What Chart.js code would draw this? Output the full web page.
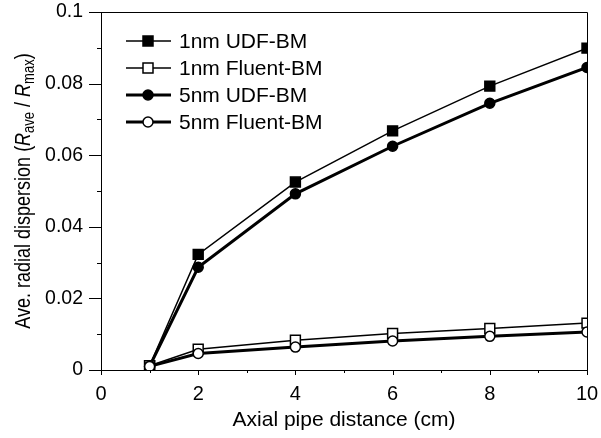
<!DOCTYPE html>
<html lang="en">
<head>
<meta charset="UTF-8">
<title>Ave. radial dispersion vs axial pipe distance</title>
<style>
  html, body { margin: 0; padding: 0; background: #fff; }
  canvas { display: block; }
</style>
</head>
<body>
<canvas id="dispChart" width="601" height="438"></canvas>
<script src="https://cdn.jsdelivr.net/npm/chart.js"></script>
<script>
// values
const distances = [1, 2, 4, 6, 8, 10];
const udf1nm    = [0.0012, 0.0323, 0.0525, 0.0668, 0.0793, 0.0899];
const fluent1nm = [0.0012, 0.0058, 0.0083, 0.0102, 0.0116, 0.0131];
const udf5nm    = [0.0010, 0.0287, 0.0492, 0.0625, 0.0745, 0.0845];
const fluent5nm = [0.0010, 0.0046, 0.0064, 0.0081, 0.0094, 0.0106];
const seriesNames = ['1nm UDF-BM', '1nm Fluent-BM', '5nm UDF-BM', '5nm Fluent-BM'];
const xTitle = 'Axial pipe distance (cm)';
const yTitleParts = [
    ['Ave. radial dispersion (', 'normal'],
    ['R', 'italic'],
    ['ave', 'sub'],
    [' / ', 'normal'],
    ['R', 'italic'],
    ['max', 'sub'],
    [')', 'normal']
];

const FONT = 'Arial, "Liberation Sans", sans-serif';
Chart.defaults.font.family = FONT;
Chart.defaults.font.size = 20;
Chart.defaults.color = '#000';

function pts(values) {
    return distances.map((d, i) => ({ x: d, y: values[i] }));
}

function series(label, values, filled, shape, width, order) {
    return {
        label: label,
        data: pts(values),
        borderColor: '#000',
        borderWidth: width,
        backgroundColor: filled ? '#000' : '#fff',
        pointBackgroundColor: filled ? '#000' : '#fff',
        pointBorderColor: '#000',
        pointBorderWidth: 1.5,
        pointStyle: shape,
        pointRadius: shape === 'rect' ? 7 : 5,
        tension: 0,
        fill: false,
        order: order
    };
}

// top/right frame and tick marks (major from the scale, minor half-way)
const framePlugin = {
    id: 'frame',
    beforeDatasetsDraw(chart) {
        const { ctx, chartArea: a, scales: { x, y } } = chart;
        ctx.save();
        ctx.strokeStyle = '#000';
        ctx.lineWidth = 1;
        ctx.beginPath();
        ctx.moveTo(a.left, Math.round(a.top) + 0.5);
        ctx.lineTo(Math.round(a.right) + 0.5, Math.round(a.top) + 0.5);
        ctx.lineTo(Math.round(a.right) + 0.5, a.bottom);
        const bottom = Math.round(a.bottom);
        x.ticks.forEach((t, i) => {
            const px = Math.round(x.getPixelForValue(t.value)) + 0.5;
            ctx.moveTo(px, bottom); ctx.lineTo(px, bottom + 5);
            const next = x.ticks[i + 1];
            if (next) {
                const pm = Math.round(x.getPixelForValue((t.value + next.value) / 2)) + 0.5;
                ctx.moveTo(pm, bottom); ctx.lineTo(pm, bottom + 3);
            }
        });
        const left = Math.round(a.left);
        y.ticks.forEach((t, i) => {
            const py = Math.round(y.getPixelForValue(t.value)) + 0.5;
            ctx.moveTo(left, py); ctx.lineTo(left - 12, py);
            const next = y.ticks[i + 1];
            if (next) {
                const pm = Math.round(y.getPixelForValue((t.value + next.value) / 2)) + 0.5;
                ctx.moveTo(left, pm); ctx.lineTo(left - 4, pm);
            }
        });
        ctx.stroke();
        ctx.restore();
    }
};

// y title with italic R and subscripts
const yTitlePlugin = {
    id: 'yTitle',
    afterDraw(chart) {
        const { ctx, chartArea: a } = chart;
        const fonts = {
            normal: '18px ' + FONT,
            italic: 'italic 18px ' + FONT,
            sub: '13px ' + FONT
        };
        ctx.save();
        ctx.fillStyle = '#000';
        ctx.textBaseline = 'middle';
        ctx.textAlign = 'left';
        let total = 0;
        yTitleParts.forEach(p => { ctx.font = fonts[p[1]]; total += ctx.measureText(p[0]).width; });
        ctx.translate(24, (a.top + a.bottom) / 2);
        ctx.rotate(-Math.PI / 2);
        ctx.scale(1, 1.2);
        let cx = -total / 2;
        yTitleParts.forEach(p => {
            ctx.font = fonts[p[1]];
            ctx.fillText(p[0], cx, p[1] === 'sub' ? 5 : 0);
            cx += ctx.measureText(p[0]).width;
        });
        ctx.restore();
    }
};

// legend: line sample with marker, like the reference
const legendPlugin = {
    id: 'lineLegend',
    afterDraw(chart) {
        const { ctx } = chart;
        ctx.save();
        chart.data.datasets.forEach((ds, i) => {
            const yy = 41 + i * 27;
            ctx.strokeStyle = ds.borderColor;
            ctx.lineWidth = ds.borderWidth;
            ctx.beginPath();
            ctx.moveTo(126, yy);
            ctx.lineTo(171, yy);
            ctx.stroke();
            ctx.fillStyle = ds.pointBackgroundColor;
            ctx.lineWidth = ds.pointBorderWidth;
            ctx.beginPath();
            if (ds.pointStyle === 'rect') {
                ctx.rect(148 - 5, yy - 5, 10, 10);
            } else {
                ctx.arc(148, yy, 5, 0, Math.PI * 2);
            }
            ctx.fill();
            ctx.stroke();
            ctx.fillStyle = '#000';
            ctx.font = '21px ' + FONT;
            ctx.textBaseline = 'middle';
            ctx.fillText(ds.label, 179, yy + 1);
        });
        ctx.restore();
    }
};

const ctx = document.getElementById('dispChart').getContext('2d');
const dispChart = new Chart(ctx, {
    type: 'line',
    data: {
        datasets: [
            series(seriesNames[0], udf1nm, true, 'rect', 1.5, 3),
            series(seriesNames[1], fluent1nm, false, 'rect', 1.5, 2),
            series(seriesNames[2], udf5nm, true, 'circle', 3, 1),
            series(seriesNames[3], fluent5nm, false, 'circle', 3, 0)
        ]
    },
    options: {
        responsive: false,
        animation: false,
        layout: { padding: { top: 12, right: 14, left: 0, bottom: 0 } },
        plugins: {
            legend: { display: false },
            tooltip: { enabled: false }
        },
        scales: {
            x: {
                type: 'linear',
                min: 0,
                max: 10,
                ticks: { stepSize: 2, padding: 12, maxRotation: 0 },
                grid: { display: false, drawTicks: false },
                border: { display: true, color: '#000', width: 1 },
                title: { display: true, text: xTitle, font: { size: 21 }, padding: { top: 0, bottom: 5 } },
                afterFit: s => { s.height = 68; s.paddingLeft = 0; s.paddingRight = 0; }
            },
            y: {
                type: 'linear',
                min: 0,
                max: 0.1,
                ticks: {
                    stepSize: 0.02,
                    padding: 18,
                    font: { size: 19.5 },
                    callback: v => String(+v.toFixed(2))
                },
                grid: { display: false, drawTicks: false },
                border: { display: true, color: '#000', width: 1 },
                afterFit: s => { s.width = 101; s.paddingTop = 0; s.paddingBottom = 0; }
            }
        }
    },
    plugins: [framePlugin, yTitlePlugin, legendPlugin]
});
</script>
</body>
</html>
